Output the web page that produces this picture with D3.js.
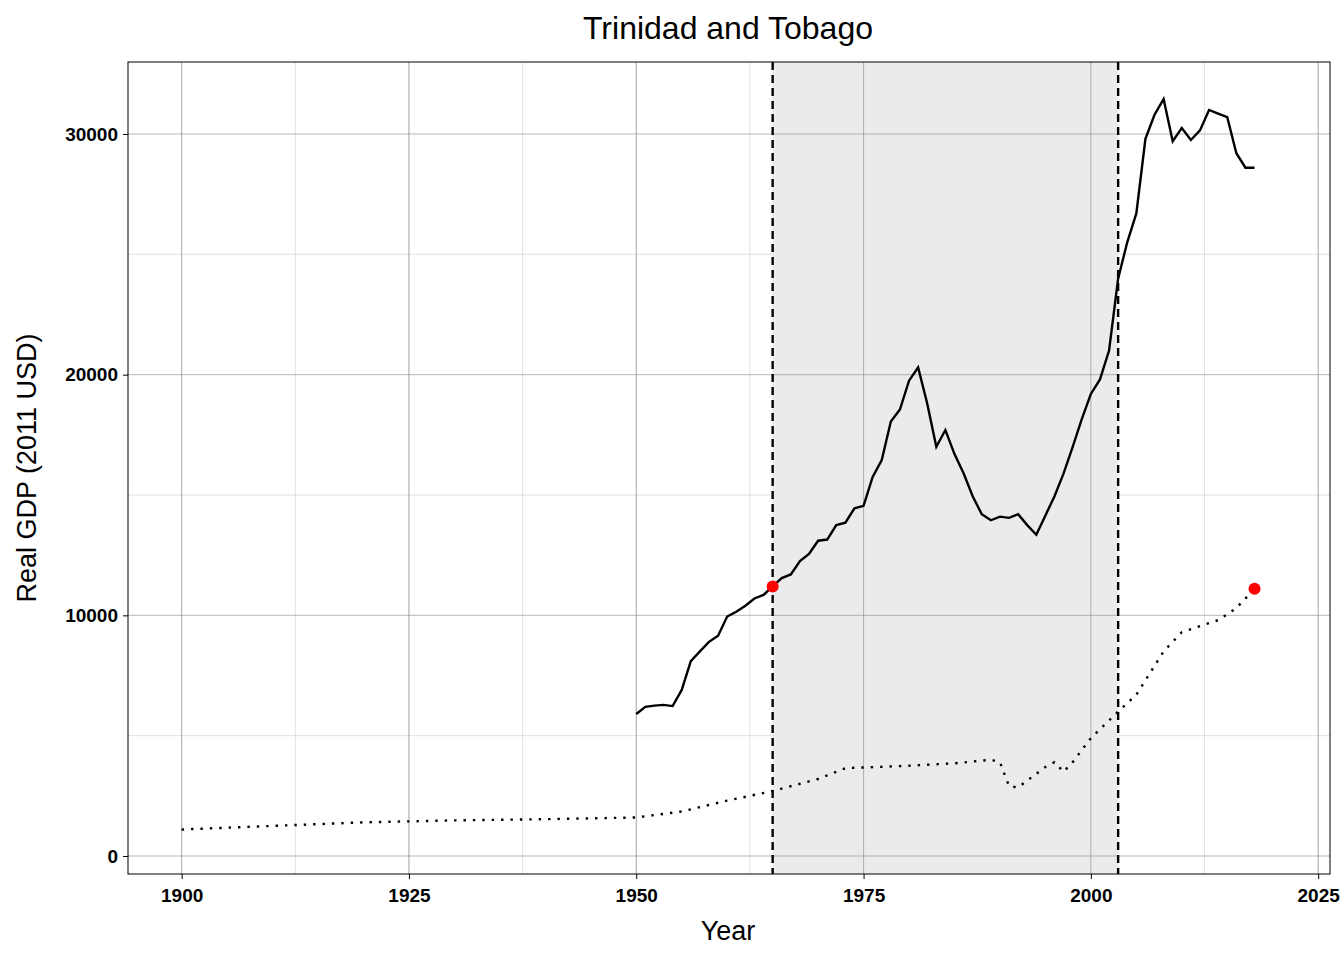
<!DOCTYPE html>
<html><head><meta charset="utf-8">
<script src="https://cdn.jsdelivr.net/npm/d3@7"></script>
<style>body{margin:0;background:#fff}</style>
</head><body>
<svg id="area"></svg>
<script>
const gdpYears = d3.range(1950, 2019);
const gdpValues = [5900,6200,6250,6280,6230,6900,8100,8500,8900,9150,9950,10150,10400,10700,10850,11200,11550,11700,12250,12550,13100,13150,13750,13850,14450,14550,15750,16450,18050,18550,19750,20300,18800,17000,17700,16700,15900,14950,14200,13950,14100,14050,14200,13750,13350,14150,14950,15900,17000,18150,19200,19800,21000,24000,25500,26700,29800,30800,31450,29700,30250,29750,30150,31000,30850,30700,29200,28600,28600];
const refYears = [1900,1910,1920,1930,1940,1950,1955,1960,1965,1970,1973,1980,1985,1989,1990,1991,1992,1995,1996,1997,1998,2000,2003,2005,2008,2010,2014,2016,2018];
const refValues = [1100,1250,1400,1480,1530,1600,1850,2300,2700,3200,3650,3750,3850,4000,3900,2900,2850,3700,3900,3500,3900,4900,6000,6700,8500,9300,9800,10300,11100];
const markerYears = [1965, 2018];
const markerValues = [11200, 11100];
const spanStart = 1965, spanEnd = 2003;
const xTicks = [1900,1925,1950,1975,2000,2025];
const yTicks = [0,10000,20000,30000];

const size = {w: 1344, h: 960};
const m = {t: 62, r: 14, b: 86, l: 128};
const font = 'Arial, "Liberation Sans", sans-serif';
const svg = d3.select('svg#area').attr('width', size.w).attr('height', size.h)
  .style('font-family', font);

const x = d3.scaleLinear().domain([1894.1, 2026.3]).range([m.l, size.w - m.r]);
const y = d3.scaleLinear().domain([0, 30000]).range([856, 134]);

const g = svg.append('g');
// minor grid
const xMinor = d3.range(1887.5, 2030, 12.5), yMinor = [-5000,5000,15000,25000];
g.selectAll('.xm').data(xMinor.filter(v => x(v) > m.l && x(v) < size.w - m.r)).join('line')
  .attr('x1', d => x(d)).attr('x2', d => x(d)).attr('y1', m.t).attr('y2', 874)
  .attr('stroke', '#ccc').attr('stroke-width', 0.6);
g.selectAll('.ym').data(yMinor.filter(v => y(v) > m.t && y(v) < 874)).join('line')
  .attr('y1', d => y(d)).attr('y2', d => y(d)).attr('x1', m.l).attr('x2', size.w - m.r)
  .attr('stroke', '#ccc').attr('stroke-width', 0.6);
// shaded span
g.append('rect').attr('x', x(spanStart)).attr('width', x(spanEnd) - x(spanStart))
  .attr('y', m.t).attr('height', 874 - m.t).attr('fill', '#ebebeb');
// major grid
g.selectAll('.xg').data(xTicks.filter(v => x(v) < size.w - m.r)).join('line')
  .attr('x1', d => x(d)).attr('x2', d => x(d)).attr('y1', m.t).attr('y2', 874)
  .attr('stroke', '#888').attr('stroke-width', 0.6);
g.selectAll('.yg').data(yTicks).join('line')
  .attr('y1', d => y(d)).attr('y2', d => y(d)).attr('x1', m.l).attr('x2', size.w - m.r)
  .attr('stroke', '#888').attr('stroke-width', 0.6);

// span boundaries
g.selectAll('.vl').data([spanStart, spanEnd]).join('line')
  .attr('x1', d => x(d)).attr('x2', d => x(d)).attr('y1', m.t).attr('y2', 874)
  .attr('stroke', '#000').attr('stroke-width', 2.4).attr('stroke-dasharray', '8,5');

const line = d3.line().x(d => x(d[0])).y(d => y(d[1]));
g.append('path').attr('d', line(refYears.map((v, i) => [v, refValues[i]])))
  .attr('fill', 'none').attr('stroke', '#000').attr('stroke-width', 2.4).attr('stroke-dasharray', '2.4,7');
g.append('path').attr('d', line(gdpYears.map((v, i) => [v, gdpValues[i]])))
  .attr('fill', 'none').attr('stroke', '#000').attr('stroke-width', 2.4);
g.selectAll('.pt').data(markerYears).join('circle')
  .attr('cx', d => x(d)).attr('cy', (d, i) => y(markerValues[i])).attr('r', 6).attr('fill', 'red');

g.append('rect').attr('x', m.l).attr('y', m.t).attr('width', size.w - m.r - m.l).attr('height', 874 - m.t)
  .attr('fill', 'none').attr('stroke', '#000').attr('stroke-width', 1);

// axes
const xa = svg.append('g').attr('transform', 'translate(0,874)')
  .call(d3.axisBottom(x).tickValues(xTicks).tickFormat(d3.format('d')).tickSize(5));
const ya = svg.append('g').attr('transform', `translate(${m.l},0)`)
  .call(d3.axisLeft(y).tickValues(yTicks).tickFormat(d3.format('d')).tickSize(5));
[xa, ya].forEach(a => {
  a.select('.domain').remove();
  a.selectAll('text').attr('font-size', 19).attr('font-weight', 'bold').attr('fill', '#000')
    .style('font-family', font);
});
xa.selectAll('text').attr('dy', '1.05em');
ya.selectAll('text').attr('x', -10);

svg.append('text').attr('x', 728).attr('y', 39).attr('text-anchor', 'middle')
  .attr('font-size', 32).text('Trinidad and Tobago');
svg.append('text').attr('x', 728).attr('y', 940).attr('text-anchor', 'middle')
  .attr('font-size', 27).text('Year');
svg.append('text').attr('transform', 'translate(36,468) rotate(-90)').attr('text-anchor', 'middle')
  .attr('font-size', 27).text('Real GDP (2011 USD)');
</script>
</body></html>
